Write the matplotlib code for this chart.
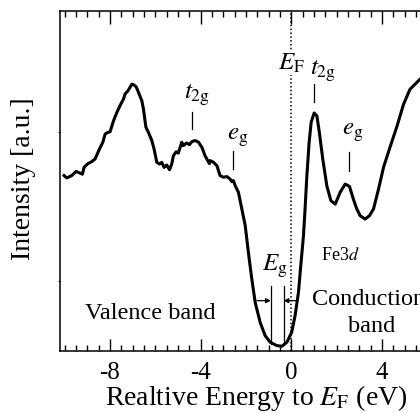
import matplotlib
matplotlib.use("Agg")
import matplotlib.pyplot as plt
from matplotlib.ticker import MultipleLocator, FuncFormatter

plt.rcParams['font.family'] = ['Liberation Serif', 'DejaVu Serif']
plt.rcParams['mathtext.fontset'] = 'stix'
plt.rcParams['axes.unicode_minus'] = False

# ---- data ----
energy = [-10.02, -9.90, -9.68, -9.49, -9.31, -9.21, -9.14, -8.99, -8.80, -8.65,
          -8.46, -8.31, -8.21, -8.09, -7.99, -7.84, -7.69, -7.55, -7.40, -7.33,
          -7.23, -7.15, -7.03, -6.93, -6.84, -6.74, -6.59, -6.52, -6.41, -6.30,
          -6.15, -6.05, -5.93, -5.81, -5.71, -5.61, -5.49, -5.37, -5.27, -5.20,
          -5.08, -4.98, -4.83, -4.76, -4.61, -4.49, -4.38, -4.24, -4.09, -3.94,
          -3.80, -3.61, -3.58, -3.43, -3.28, -3.14, -2.99, -2.84, -2.70, -2.62,
          -2.55, -2.47, -2.33, -2.18, -2.03, -1.89, -1.74, -1.59, -1.37, -1.15,
          -0.93, -0.64, -0.41, -0.19, 0.02, 0.17, 0.32, 0.42, 0.54, 0.61,
          0.69, 0.79, 0.88, 1.01, 1.13, 1.24, 1.39, 1.57, 1.75, 1.94,
          2.16, 2.38, 2.57, 2.74, 2.89, 3.04, 3.26, 3.45, 3.63, 3.85,
          4.07, 4.36, 4.66, 4.95, 5.24, 5.69, 6.20]
intensity = [51.6, 50.9, 51.6, 52.8, 52.3, 52.0, 54.0, 55.0, 55.7, 56.5,
             59.4, 61.4, 63.8, 64.3, 64.5, 67.7, 70.2, 72.2, 74.1, 75.6,
             76.3, 77.1, 78.5, 78.2, 77.7, 76.1, 73.6, 71.2, 65.8, 64.3,
             61.9, 59.4, 55.5, 55.0, 55.5, 54.0, 54.7, 53.3, 55.0, 57.4,
             58.6, 58.2, 61.4, 60.4, 61.2, 60.7, 61.6, 61.9, 61.4, 59.9,
             57.4, 55.1, 56.0, 55.5, 54.5, 51.6, 51.1, 51.3, 50.6, 49.8,
             50.1, 48.6, 46.7, 41.8, 36.9, 29.0, 21.2, 14.3, 8.4, 4.5,
             2.6, 1.6, 1.4, 2.6, 5.5, 10.4, 17.3, 25.1, 33.9, 41.8,
             51.6, 61.4, 67.3, 70.0, 69.2, 64.3, 56.5, 48.6, 44.2, 43.2,
             46.7, 49.1, 48.4, 44.7, 41.8, 39.8, 38.8, 39.8, 41.8, 47.6,
             54.0, 60.0, 66.0, 72.5, 77.0, 80.0, 83.5]

# peak markers: (label, text x, text y, line x, line y0, line y1)
peak_labels = [r'$t_{\rm 2g}$', r'$e_{\rm g}$', r'$t_{\rm 2g}$', r'$e_{\rm g}$']
peak_text_x = [-4.17, -2.37, 1.42, 2.70]
peak_text_y = [75.6, 63.1, 82.4, 64.3]
peak_line_x = [-4.38, -2.59, 1.02, 2.55]
peak_line_top = [70.3, 58.9, 78.5, 58.4]
peak_line_bot = [65.3, 53.5, 73.1, 53.0]

gap_edges = [-0.90, -0.34]

W, H = 420, 414
fig = plt.figure(figsize=(W / 100, H / 100), dpi=100)

xmin, xmax = -10.2, 6.2
px_per_unit = 22.67
ax_left, ax_bottom_px, ax_top_px = 60, 352, 12
ax_w = (xmax - xmin) * px_per_unit
ax = fig.add_axes([ax_left / W, (H - ax_bottom_px) / H, ax_w / W,
                   (ax_bottom_px - ax_top_px) / H])

ax.plot(energy, intensity, color='black', lw=2.2, zorder=3, solid_joinstyle='round')
ax.axvline(0, color='black', ls=(0, (1, 1.5)), lw=1.1, zorder=1)

ax.set_xlim(xmin, xmax)
ax.set_ylim(0, 100)

ax.xaxis.set_major_locator(MultipleLocator(4))
ax.xaxis.set_minor_locator(MultipleLocator(0.5))
ax.xaxis.set_major_formatter(FuncFormatter(lambda v, p: '%d' % round(v)))
ax.set_yticks([20.6, 64.4])
ax.set_yticklabels([])
ax.tick_params(axis='x', which='both', direction='in', top=True, bottom=True,
               labelsize=18, pad=7, width=1.0)
ax.tick_params(axis='x', which='major', length=9)
ax.tick_params(axis='x', which='minor', length=4.3)
ax.tick_params(axis='y', which='both', direction='out', length=1.2, width=0.6,
               left=True, right=False)
for s in ax.spines.values():
    s.set_linewidth(1.1)

# peak labels and marker lines
for lab, tx, ty, lx, l0, l1 in zip(peak_labels, peak_text_x, peak_text_y,
                                   peak_line_x, peak_line_top, peak_line_bot):
    ax.text(tx, ty, lab, fontsize=18, ha='center', va='center')
    ax.plot([lx, lx], [l0, l1], color='black', lw=0.9)

ax.text(0, 84.9, r'$E_{\rm F}$', fontsize=18, ha='center', va='center',
        bbox=dict(facecolor='white', edgecolor='none', pad=0.5), zorder=2)

# band gap
for gx in gap_edges:
    ax.plot([gx, gx], [19.2, 2.0], color='black', lw=0.9, zorder=4)
ax.annotate('', xy=(gap_edges[0], 14.8), xytext=(-1.51, 14.8),
            arrowprops=dict(arrowstyle='-|>', lw=0.9, color='black',
                            mutation_scale=7, shrinkA=0, shrinkB=0), zorder=4)
ax.annotate('', xy=(gap_edges[1], 14.8), xytext=(0.25, 14.8),
            arrowprops=dict(arrowstyle='-|>', lw=0.9, color='black',
                            mutation_scale=7, shrinkA=0, shrinkB=0), zorder=4)
ax.text(-0.72, 25.1, r'$E_{\rm g}$', fontsize=18, ha='center', va='center')

ax.text(2.16, 28.5, r'Fe3$d$', fontsize=13, ha='center', va='center')
ax.text(-6.2, 11.4, 'Valence band', fontsize=17.5, ha='center', va='center')
ax.text(0.91, 15.3, 'Conduction', fontsize=17.5, ha='left', va='center')
ax.text(3.55, 7.5, 'band', fontsize=17.5, ha='center', va='center')

fig.text(24 / W, 1 - 179 / H, 'Intensity [a.u.]', fontsize=20, rotation=90,
         ha='center', va='center')
fig.text(256 / W, 1 - 405 / H, r'Realtive Energy to $E_{\rm F}$ (eV)', fontsize=20,
         ha='center', va='baseline')

fig.savefig('out.png', dpi=100)
